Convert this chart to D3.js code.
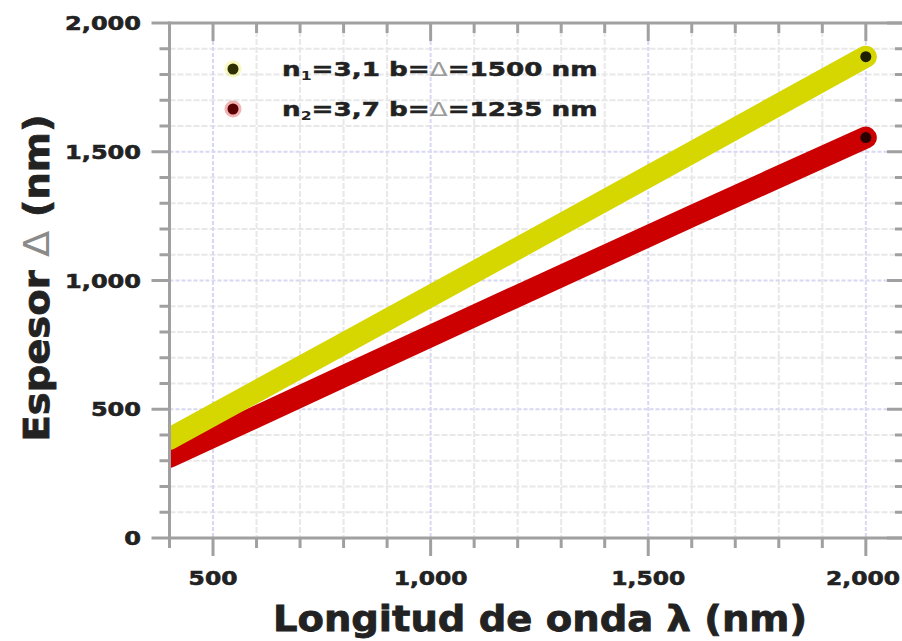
<!DOCTYPE html>
<html>
<head>
<meta charset="utf-8">
<script src="https://cdn.jsdelivr.net/npm/d3@7"></script>
<style>
  html, body { margin: 0; padding: 0; background: #fff; }
  svg { display: block; }
  text { font-family: "DejaVu Sans", sans-serif; font-weight: bold; fill: #222; }
</style>
</head>
<body>
<svg id="chart" width="902" height="641"></svg>
<script>
// ---- data ----
const wavelength = [400, 800, 1200, 1600, 2000];              // λ (nm)
const thicknessN1 = [385, 755, 1125, 1497, 1869];             // n1 = 3,1
const thicknessN2 = [315, 628, 940, 1250, 1555];              // n2 = 3,7
const seriesNames = [
  { n: "n", sub: "1", rest: "=3,1 b=", delta: "Δ", tail: "=1500 nm" },
  { n: "n", sub: "2", rest: "=3,7 b=", delta: "Δ", tail: "=1235 nm" }
];
const xMajorTicks = [500, 1000, 1500, 2000];
const yMajorTicks = [0, 500, 1000, 1500, 2000];
const xTitle = "Longitud de onda λ (nm)";
const yTitleParts = ["Espesor ", "Δ", " (nm)"];

// ---- layout ----
const svg = d3.select("#chart");
const pL = 169.5, pR = 905, pT = 23, pB = 538;
const x = d3.scaleLinear().domain([400, 2090]).range([pL, pR]);
const y = d3.scaleLinear().domain([0, 2000]).range([pB, pT]);
const fmt = d3.format(",");

const xMinor = d3.range(400, 2100, 100);
const yMinor = d3.range(0, 2001, 100);

// grid
const grid = svg.append("g");
grid.selectAll(".gx").data(xMinor.filter(v => v > 400 && !xMajorTicks.includes(v))).join("line")
  .attr("x1", d => x(d)).attr("x2", d => x(d)).attr("y1", pT).attr("y2", pB)
  .attr("stroke", "#e8e8e8").attr("stroke-width", 2).attr("stroke-dasharray", "6,2");
grid.selectAll(".gy").data(yMinor.filter(v => v > 0 && v < 2000 && !yMajorTicks.includes(v))).join("line")
  .attr("x1", pL).attr("x2", pR).attr("y1", d => y(d)).attr("y2", d => y(d))
  .attr("stroke", "#e8e8e8").attr("stroke-width", 2).attr("stroke-dasharray", "6,2");
grid.selectAll(".gxm").data(xMajorTicks).join("line")
  .attr("x1", d => x(d)).attr("x2", d => x(d)).attr("y1", pT).attr("y2", pB)
  .attr("stroke", "#d8d8f2").attr("stroke-width", 2).attr("stroke-dasharray", "4,2");
grid.selectAll(".gym").data(yMajorTicks.filter(v => v > 0 && v < 2000)).join("line")
  .attr("x1", pL).attr("x2", pR).attr("y1", d => y(d)).attr("y2", d => y(d))
  .attr("stroke", "#d8d8f2").attr("stroke-width", 2).attr("stroke-dasharray", "4,2");

// clip
svg.append("clipPath").attr("id", "plotclip").append("rect")
  .attr("x", pL + 1).attr("y", pT - 20).attr("width", pR - pL + 20).attr("height", pB - pT + 20);

// series lines
const lineGen = d3.line().x(d => x(d[0])).y(d => y(d[1]));
const series = [
  { vals: thicknessN2, color: "#cc0000", dark: "#2a0000", halo: "#e04040" },
  { vals: thicknessN1, color: "#d6d600", dark: "#1e1e00", halo: "#eeee60" }
];
const plot = svg.append("g").attr("clip-path", "url(#plotclip)");
series.forEach(s => {
  const pts = wavelength.map((w, i) => [w, s.vals[i]]);
  plot.append("path").attr("d", lineGen(pts))
    .attr("fill", "none").attr("stroke", s.color).attr("stroke-width", 22)
    .attr("stroke-linecap", "round").attr("stroke-linejoin", "round");
  const last = pts[pts.length - 1];
  plot.append("circle").attr("cx", x(last[0])).attr("cy", y(last[1])).attr("r", 5.5).attr("fill", s.dark);
});

// axes frame
const ax = svg.append("g").attr("stroke", "#a0a0a0").attr("stroke-width", 3);
ax.append("line").attr("x1", pL).attr("x2", pL).attr("y1", pT - 1.5).attr("y2", pB + 1.5);
ax.append("line").attr("x1", pL).attr("x2", 902).attr("y1", pB).attr("y2", pB);
ax.append("line").attr("x1", pL).attr("x2", 902).attr("y1", pT).attr("y2", pT);

// ticks
const tk = svg.append("g").attr("stroke", "#a0a0a0").attr("stroke-width", 3);
xMinor.forEach(v => {
  const maj = xMajorTicks.includes(v);
  const L = maj ? 18 : 10;
  tk.append("line").attr("x1", x(v)).attr("x2", x(v)).attr("y1", pB).attr("y2", pB + L);
  tk.append("line").attr("x1", x(v)).attr("x2", x(v)).attr("y1", pT).attr("y2", pT + L);
});
yMinor.forEach(v => {
  const maj = yMajorTicks.includes(v);
  const L = maj ? 18 : 10;
  tk.append("line").attr("x1", pL).attr("x2", pL - L).attr("y1", y(v)).attr("y2", y(v));
  tk.append("line").attr("x1", pR).attr("x2", pR - L).attr("y1", y(v)).attr("y2", y(v));
});

// tick labels
function stretchedText(g, px, py, str, size, sx, anchor) {
  return g.append("text")
    .attr("transform", `translate(${px},${py}) scale(${sx},1)`)
    .attr("text-anchor", anchor).attr("font-size", size)
    .attr("stroke", "#222").attr("stroke-width", 0.6).text(str);
}
const lab = svg.append("g");
xMajorTicks.forEach((v, i) => {
  const last = i === xMajorTicks.length - 1;
  stretchedText(lab, last ? 900 : x(v), 585, fmt(v), 20, 1.17, last ? "end" : "middle");
});
yMajorTicks.forEach(v => stretchedText(lab, 141, y(v) + 7, fmt(v), 20, 1.2, "end"));

// axis titles
svg.append("text")
  .attr("transform", `translate(540,631) scale(1.1,1)`)
  .attr("text-anchor", "middle").attr("font-size", 35)
  .attr("stroke", "#222").attr("stroke-width", 0.8).text(xTitle);

const yt = svg.append("text")
  .attr("transform", `translate(49,278) rotate(-90) scale(1.07,1)`)
  .attr("text-anchor", "middle").attr("font-size", 36);
yt.append("tspan").attr("stroke", "#222").attr("stroke-width", 0.8).text(yTitleParts[0]);
yt.append("tspan").style("fill", "#8a8a8a").style("font-weight", "normal").text(yTitleParts[1]);
yt.append("tspan").attr("stroke", "#222").attr("stroke-width", 0.8).text(yTitleParts[2]);

// legend
const legendY = [69, 109];
const leg = svg.append("g");
seriesNames.forEach((s, i) => {
  const sr = series[1 - i];
  leg.append("circle").attr("cx", 233).attr("cy", legendY[i]).attr("r", 8.5).attr("fill", sr.halo).attr("opacity", 0.4);
  leg.append("circle").attr("cx", 233).attr("cy", legendY[i]).attr("r", 5.5).attr("fill", i === 0 ? "#2e2e00" : "#5a0000");
  const t = leg.append("text")
    .attr("transform", `translate(282,${legendY[i] + 7}) scale(1.31,1)`)
    .attr("font-size", 20);
  t.append("tspan").attr("stroke", "#222").attr("stroke-width", 0.5).text(s.n);
  t.append("tspan").attr("font-size", 12).attr("dy", 4).text(s.sub);
  t.append("tspan").attr("dy", -4).attr("stroke", "#222").attr("stroke-width", 0.5).text(s.rest);
  t.append("tspan").style("fill", "#9a9a9a").style("font-weight", "normal").text(s.delta);
  t.append("tspan").attr("stroke", "#222").attr("stroke-width", 0.5).text(s.tail);
});
</script>
</body>
</html>
